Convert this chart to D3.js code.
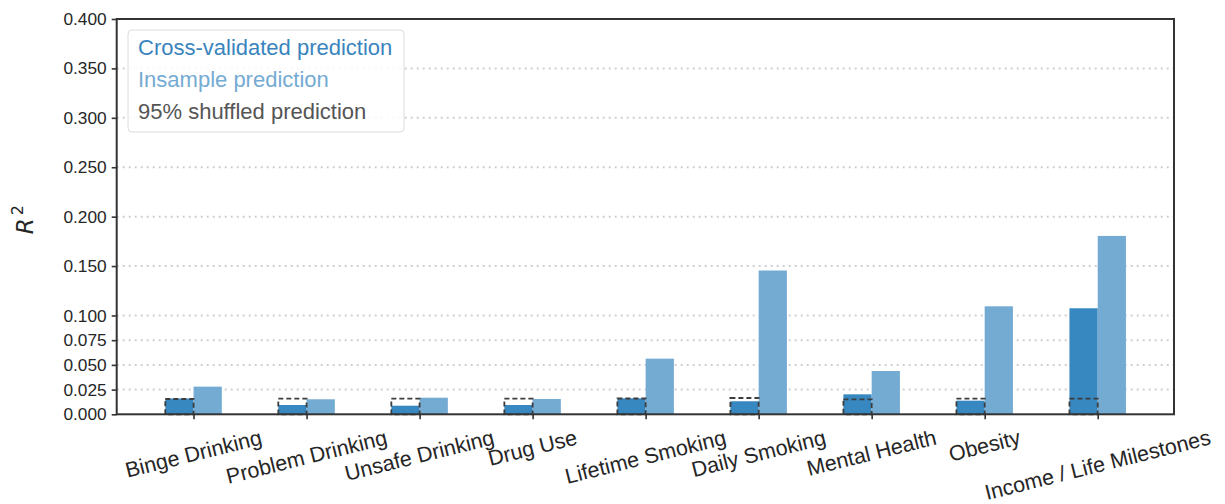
<!DOCTYPE html>
<html>
<head>
<meta charset="utf-8">
<script src="https://cdn.jsdelivr.net/npm/d3@7"></script>
<style>
  html, body { margin: 0; padding: 0; background: #fff; }
  svg { display: block; font-family: "Liberation Sans", Arial, sans-serif; }
</style>
</head>
<body>
<svg id="chart" width="1225" height="504"></svg>
<script>
// Prediction performance (R^2) per outcome category
const categories = [
  "Binge Drinking", "Problem Drinking", "Unsafe Drinking", "Drug Use",
  "Lifetime Smoking", "Daily Smoking", "Mental Health", "Obesity",
  "Income / Life Milestones"
];
const crossValidated = [0.0160, 0.0094, 0.0087, 0.0094, 0.0162, 0.0132, 0.0202, 0.0138, 0.1073];
const insample       = [0.0280, 0.0152, 0.0168, 0.0155, 0.0563, 0.1455, 0.0438, 0.1093, 0.1805];
const shuffled95     = [0.0155, 0.0158, 0.0158, 0.0158, 0.0160, 0.0165, 0.0152, 0.0158, 0.0158];
const yTicks = [0, 0.025, 0.05, 0.075, 0.1, 0.15, 0.2, 0.25, 0.3, 0.35, 0.4];
const legendLabels = ["Cross-validated prediction", "Insample prediction", "95% shuffled prediction"];

const colDark = "#3787c0";
const colLight = "#74abd3";
const colShuffle = "#3d3d3d";
const axisCol = "#333333";

const svg = d3.select("#chart");
const plot = { left: 116.7, right: 1174, top: 19, bottom: 414.3 };

const x = d3.scaleLinear().domain([-0.68, categories.length - 1 + 0.675]).range([plot.left, plot.right]);
const y = d3.scaleLinear().domain([0, 0.4]).range([plot.bottom, plot.top]);
const barW = 0.25;

// dotted horizontal grid
svg.append("g").selectAll("line")
  .data(yTicks.filter(d => d > 0))
  .join("line")
  .attr("x1", plot.left).attr("x2", plot.right)
  .attr("y1", d => y(d)).attr("y2", d => y(d))
  .attr("stroke", "#cfcfcf").attr("stroke-width", 2)
  .attr("stroke-dasharray", "2,4");

const idx = d3.range(categories.length);

// cross-validated bars (left of tick)
svg.append("g").selectAll("rect")
  .data(idx).join("rect")
  .attr("x", i => x(i - barW)).attr("width", x(barW) - x(0))
  .attr("y", i => y(crossValidated[i])).attr("height", i => y(0) - y(crossValidated[i]))
  .attr("fill", colDark);

// insample bars (right of tick)
svg.append("g").selectAll("rect")
  .data(idx).join("rect")
  .attr("x", i => x(i)).attr("width", x(barW) - x(0))
  .attr("y", i => y(insample[i])).attr("height", i => y(0) - y(insample[i]))
  .attr("fill", colLight);

// 95th percentile of shuffled predictions, dashed outline
svg.append("g").selectAll("rect")
  .data(idx).join("rect")
  .attr("x", i => x(i - barW)).attr("width", x(barW) - x(0))
  .attr("y", i => y(shuffled95[i])).attr("height", i => y(0) - y(shuffled95[i]))
  .attr("fill", "none").attr("stroke", colShuffle).attr("stroke-width", 1.8)
  .attr("stroke-dasharray", "5,3");

// frame
svg.append("rect")
  .attr("x", plot.left).attr("y", plot.top)
  .attr("width", plot.right - plot.left).attr("height", plot.bottom - plot.top)
  .attr("fill", "none").attr("stroke", axisCol).attr("stroke-width", 2);

// y axis
const yAxis = d3.axisLeft(y).tickValues(yTicks).tickFormat(d3.format(".3f")).tickSize(5).tickPadding(5);
const gy = svg.append("g").attr("transform", `translate(${plot.left},0)`).call(yAxis);
gy.select(".domain").remove();
gy.selectAll(".tick line").attr("stroke", axisCol).attr("stroke-width", 1.6);
gy.selectAll(".tick text").attr("fill", "#262626").style("font-size", "17.3px")
  .style("font-family", "'Liberation Sans', Arial, sans-serif");

// x axis ticks (labels drawn separately, rotated)
const xAxis = d3.axisBottom(x).tickValues(idx).tickFormat("").tickSize(5);
const gx = svg.append("g").attr("transform", `translate(0,${plot.bottom})`).call(xAxis);
gx.select(".domain").remove();
gx.selectAll(".tick line").attr("stroke", axisCol).attr("stroke-width", 1.6);

const angle = 14;
const rad = angle * Math.PI / 180;
const fsX = 21.5;
const labelTop = plot.bottom + 13;
const xl = svg.append("g");
categories.forEach((c, i) => {
  const t = xl.append("text")
    .text(c)
    .style("font-size", fsX + "px")
    .attr("fill", "#262626")
    .attr("text-anchor", "middle")
    .attr("dominant-baseline", "central");
  const L = t.node().getComputedTextLength();
  const h = fsX * 0.95;
  const bh = L * Math.sin(rad) + h * Math.cos(rad);
  const cx = x(i), cy = labelTop + bh / 2;
  t.attr("x", cx).attr("y", cy).attr("transform", `rotate(${-angle},${cx},${cy})`);
});

// y axis title: R^2
const yt = svg.append("text")
  .attr("transform", `translate(33,${(plot.top + plot.bottom) / 2 + 3}) rotate(-90)`)
  .attr("text-anchor", "middle")
  .attr("fill", "#262626")
  .style("font-family", "'DejaVu Sans', sans-serif")
  .style("font-size", "23px");
yt.append("tspan").text("R").style("font-style", "italic");
yt.append("tspan").text("2").attr("dy", -10).attr("dx", 3).style("font-size", "16px");

// legend
const lg = svg.append("g");
lg.append("rect")
  .attr("x", 128).attr("y", 30).attr("width", 276).attr("height", 102)
  .attr("rx", 4).attr("fill", "#ffffff").attr("fill-opacity", 0.85)
  .attr("stroke", "#dcdcdc").attr("stroke-width", 1);
const legendColors = ["#3a84be", "#74abd3", "#555555"];
legendLabels.forEach((lab, i) => {
  lg.append("text")
    .attr("x", 138).attr("y", 54.5 + i * 32.3)
    .attr("fill", legendColors[i])
    .style("font-size", "22px")
    .text(lab);
});
</script>
</body>
</html>
